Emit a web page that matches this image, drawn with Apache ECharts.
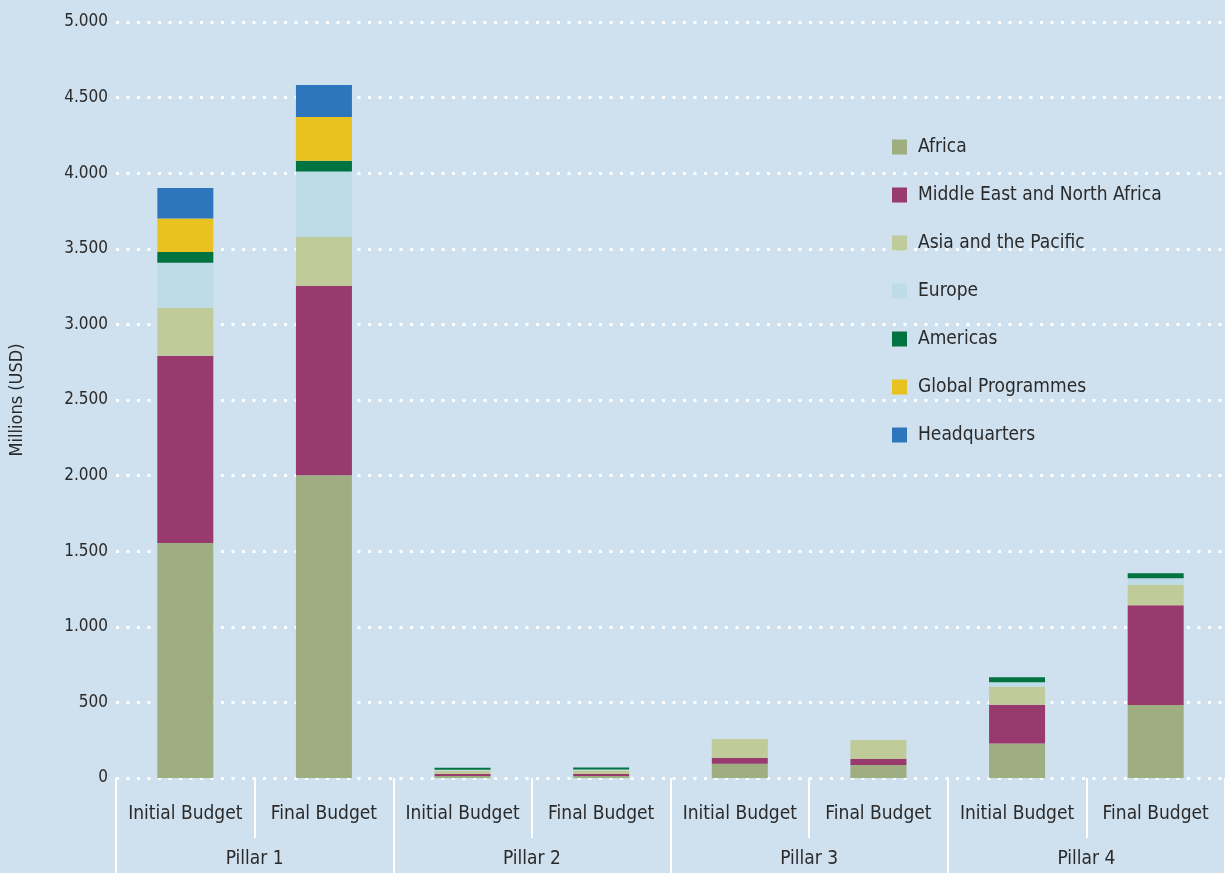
<!DOCTYPE html>
<html>
<head>
<meta charset="utf-8">
<script src="https://cdn.jsdelivr.net/npm/echarts@6/dist/echarts.min.js"></script>
<style>
html,body{margin:0;padding:0;background:#cfe0ee;}
#chart{width:1225px;height:873px;}
</style>
</head>
<body>
<div id="chart"></div>
<script>
var categories = ['Initial Budget','Final Budget','Initial Budget','Final Budget','Initial Budget','Final Budget','Initial Budget','Final Budget'];
var pillars = ['Pillar 1','Pillar 2','Pillar 3','Pillar 4'];
var yTicks = [0, 500, 1000, 1500, 2000, 2500, 3000, 3500, 4000, 4500, 5000];

var africa   = [1554, 2002, 14, 14, 95, 86, 229, 483];
var mena     = [1239, 1252, 12, 12, 37, 40, 256, 659];
var asia     = [317, 324, 22, 24, 126, 125, 119, 135];
var europe   = [298, 434, 7, 7, 0, 0, 30, 44];
var americas = [71, 71, 12, 12, 0, 0, 33, 33];
var globalP  = [222, 289, 0, 0, 0, 0, 0, 0];
var hq       = [201, 211, 0, 0, 0, 0, 0, 0];

var seriesNames = ['Africa','Middle East and North Africa','Asia and the Pacific','Europe','Americas','Global Programmes','Headquarters'];
var seriesData = [africa, mena, asia, europe, americas, globalP, hq];
var colors = ['#9eae80','#983a6e','#bfcb98','#bedbe8','#007340','#e8c31f','#2e76bc'];

var FONT = '"Liberation Sans Narrow", "DejaVu Sans Condensed", "Roboto", sans-serif';
var TXT = '#2a2a2a';

var chart = echarts.init(document.getElementById('chart'));
chart.setOption({
  backgroundColor: '#cfe0ee',
  animation: false,
  color: colors,
  textStyle: { fontFamily: FONT },
  grid: { left: 115, right: 0, top: 22, bottom: 95, containLabel: false },
  legend: {
    orient: 'vertical',
    left: 887,
    top: 130,
    itemWidth: 15,
    itemHeight: 15,
    itemGap: 24,
    icon: 'rect',
    selectedMode: false,
    textStyle: { fontFamily: FONT, fontSize: 19, color: TXT, lineHeight: 24, padding: [0,0,0,6] },
    data: seriesNames
  },
  xAxis: [
    {
      type: 'category',
      data: categories,
      position: 'bottom',
      axisLine: { show: false },
      axisTick: { show: true, interval: 0, length: 60, lineStyle: { color: '#ffffff', width: 2 } },
      axisLabel: { interval: 0, margin: 27, fontFamily: FONT, fontSize: 19, color: TXT },
      splitLine: { show: false }
    },
    {
      type: 'category',
      data: pillars,
      position: 'bottom',
      axisLine: { show: false },
      axisTick: { show: true, interval: 0, length: 95, lineStyle: { color: '#ffffff', width: 2 } },
      axisLabel: { interval: 0, margin: 72, fontFamily: FONT, fontSize: 19, color: TXT },
      splitLine: { show: false }
    }
  ],
  yAxis: {
    type: 'value',
    min: yTicks[0],
    max: yTicks[yTicks.length - 1],
    interval: 500,
    name: 'Millions (USD)',
    nameLocation: 'middle',
    nameGap: 90,
    nameTextStyle: { fontFamily: FONT, fontSize: 18, color: TXT },
    axisLine: { show: false },
    axisTick: { show: false },
    axisLabel: {
      margin: 8,
      fontFamily: FONT,
      fontSize: 17,
      color: TXT,
      formatter: function (v) { return String(v).replace(/\B(?=(\d{3})+(?!\d))/g, '.'); }
    },
    splitLine: { show: true, lineStyle: { color: '#ffffff', width: 3, type: [3, 7.5] } }
  },
  series: seriesNames.map(function (n, i) {
    return {
      name: n,
      type: 'bar',
      stack: 'total',
      xAxisIndex: 0,
      barWidth: 56,
      data: seriesData[i],
      itemStyle: { color: colors[i] }
    };
  })
});
</script>
</body>
</html>
